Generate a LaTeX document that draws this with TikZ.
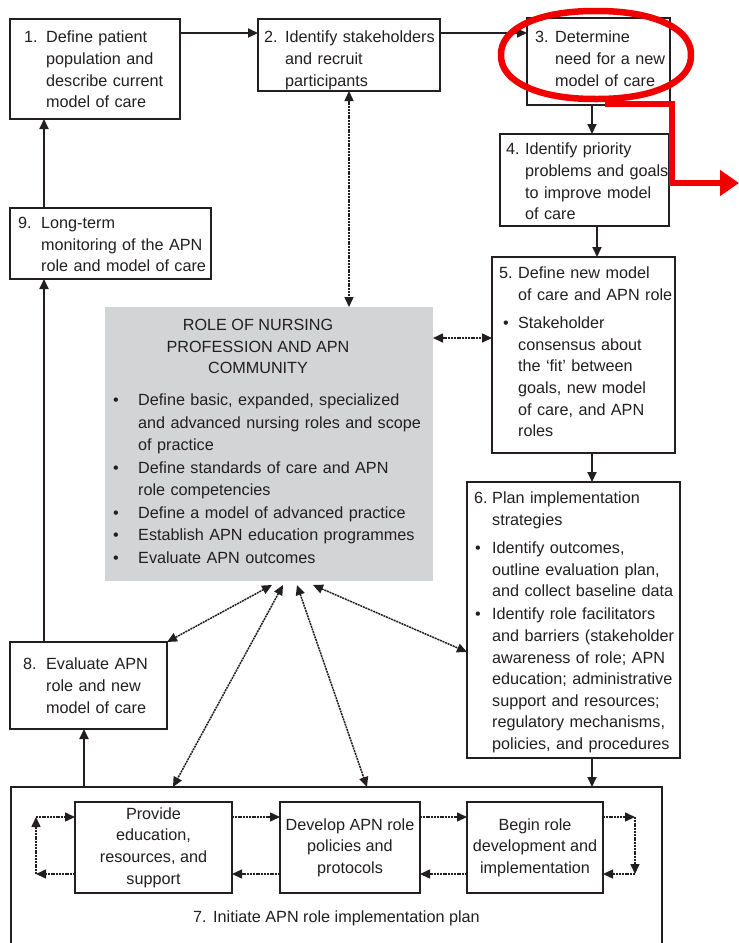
\documentclass[tikz,border=0pt]{standalone}
\usepackage{fontspec}
\setmainfont{Liberation Sans}
\usetikzlibrary{arrows.meta,calc}
\setlength\parindent{0pt}

\definecolor{ink}{HTML}{231F20}
\definecolor{panel}{RGB}{211,212,214}
\definecolor{mark}{RGB}{240,0,0}

% hanging layout: first line carries a number or bullet, \nl starts an indented line
\newlength\hangw
\newcommand\numline[2]{\leftskip=0pt\setlength\hangw{#2}\makebox[#2][l]{#1}\ignorespaces}
\newcommand\bul[2][0pt]{\leftskip=0pt\setlength\hangw{#2}\makebox[#2][l]{\hspace{#1}\textbullet}\ignorespaces}
\newcommand\nl{\par\leftskip=\hangw\relax}

\tikzset{
  box/.style={draw=ink, line width=1.3pt, inner sep=0pt, outer sep=0pt, anchor=north west},
  txt/.style={inner sep=0pt, text=ink, font=\fontsize{16.2}{21.6}\selectfont},
  textblock/.style={txt, anchor=north west, align=left, text width=#1},
  flow/.style={draw=ink, line width=1.9pt, -{Triangle[length=10pt,width=9pt]}},
  link/.style={draw=ink, line width=1.5pt, dash pattern=on 2pt off 0.8pt,
    {Triangle[length=10pt,width=9pt]}-{Triangle[length=10pt,width=9pt]}},
  loopline/.style={draw=ink, line width=1.5pt, dash pattern=on 2pt off 0.8pt,
    -{Triangle[length=10pt,width=9pt]}},
  highlight/.style={draw=mark, line width=6.5pt},
}

\begin{document}
\begin{tikzpicture}[x=1pt,y=-1pt]
\useasboundingbox (0,0) rectangle (739,943);
\clip (0,0) rectangle (739,943);
\fill[white] (0,0) rectangle (739,943);

% ---- frame of step 7 (runs off the bottom edge)
\node[box, minimum width=651pt, minimum height=180pt] (b7) at (11,787) {};

% ---- boxes
\node[box, minimum width=170pt, minimum height=100pt] (b1) at (10,19) {};
\node[box, minimum width=182pt, minimum height=72pt]  (b2) at (258,19) {};
\node[box, minimum width=143pt, minimum height=87pt]  (b3) at (527,18) {};
\node[box, minimum width=169pt, minimum height=92pt]  (b4) at (500,134) {};
\node[box, minimum width=183pt, minimum height=196pt] (b5) at (492,257) {};
\node[box, minimum width=213pt, minimum height=276pt] (b6) at (467,482) {};
\node[box, minimum width=201pt, minimum height=71pt]  (b9) at (10,208) {};
\node[box, minimum width=157pt, minimum height=87pt]  (b8) at (10,642) {};
\node[box, draw=none, fill=panel, minimum width=328pt, minimum height=274pt] (gray) at (105,307) {};

% ---- box texts
\node[textblock=250pt] (t1) at (24,31)
  {\numline{1.}{22pt}Define patient\nl population and\nl describe current\nl model of care\par};
\node[textblock=250pt] (t2) at (264,31)
  {\numline{2.}{21pt}Identify stakeholders\nl and recruit\nl participants\par};
\node[textblock=250pt] (t3) at (535,31)
  {\numline{3.}{20pt}Determine\nl need for a new\nl model of care\par};
\node[textblock=250pt] (t4) at (506,143)
  {\numline{4.}{19pt}Identify priority\nl problems and goals\nl to improve model\nl of care\par};
\node[textblock=250pt] (t5) at (499,267)
  {\numline{5.}{19pt}Define new model\nl of care and APN role\par\vspace{6.5pt}%
   \bul[4pt]{19pt}Stakeholder\nl consensus about\nl the ‘fit’ between\nl goals, new model\nl of care, and APN\nl roles\par};
\node[textblock=260pt] (t6) at (474,492)
  {\numline{6.}{18pt}Plan implementation\nl strategies\par\vspace{6.5pt}%
   \bul[1pt]{18pt}Identify outcomes,\nl outline evaluation plan,\nl and collect baseline data\par\vspace{1.5pt}%
   \bul[1pt]{18pt}Identify role facilitators\nl and barriers (stakeholder\nl awareness of role; APN\nl education; administrative\nl support and resources;\nl regulatory mechanisms,\nl policies, and procedures\par};
\node[textblock=250pt] (t9) at (18,217)
  {\numline{9.}{23pt}Long-term\nl monitoring of the APN\nl role and model of care\par};
\node[textblock=250pt] (t8) at (23,658)
  {\numline{8.}{23pt}Evaluate APN\nl role and new\nl model of care\par};

\node[txt, align=center, anchor=north] (gt) at (258,319)
  {ROLE OF NURSING\\PROFESSION AND APN\\COMMUNITY};
\node[textblock=330pt, font=\fontsize{16.2}{22.5}\selectfont] (gl) at (113,394)
  {\bul{25pt}Define basic, expanded, specialized\nl and advanced nursing roles and scope\nl of practice
   \par\bul{25pt}Define standards of care and APN\nl role competencies
   \par\bul{25pt}Define a model of advanced practice
   \par\bul{25pt}Establish APN education programmes
   \par\bul{25pt}Evaluate APN outcomes\par};

% ---- inner boxes of step 7
\node[box, txt, align=center, minimum width=157pt, minimum height=91pt] (pe) at (75,802)
  {Provide\\education,\\resources, and\\support};
\node[box, txt, align=center, minimum width=140pt, minimum height=91pt] (dv) at (280,802)
  {Develop APN role\\policies and\\protocols};
\node[box, txt, align=center, minimum width=136pt, minimum height=91pt] (bg) at (467,802)
  {Begin role\\development and\\implementation};
\node[txt, anchor=west] (cap) at (193,918)
  {\makebox[20pt][l]{7.}Initiate APN role implementation plan};

% ---- main flow
\draw[flow] (b1.east |- 0,33) -- (b2.west |- 0,33);
\draw[flow] (b2.east |- 0,33) -- (b3.west |- 0,33);
\draw[flow] (b3.south -| 592,0) -- (b4.north -| 592,0);
\draw[flow] (b4.south -| 597,0) -- (b5.north -| 597,0);
\draw[flow] (b5.south -| 592,0) -- (b6.north -| 592,0);
\draw[flow] (b6.south -| 592,0) -- (b7.north -| 592,0);
\draw[flow] (b7.north -| 84,0) -- (b8.south -| 84,0);
\draw[flow] (b8.north -| 44,0) -- (b9.south -| 44,0);
\draw[flow] (b9.north -| 44,0) -- (b1.south -| 44,0);

% ---- links with the nursing profession panel
\draw[link] (b2.south -| 349,0) -- (gray.north -| 349,0);
\draw[link] (gray.east |- 0,338) -- (b5.west |- 0,338);
\draw[link] ($(gray.south -| 272,0)+(0,4)$) -- (b8.north east);
\draw[link] ($(gray.south -| 283,0)+(0,4)$) -- (b7.north -| 173,0);
\draw[link] ($(gray.south -| 297,0)+(0,4)$) -- (b7.north -| 367,0);
\draw[link] ($(gray.south -| 313,0)+(0,4)$) -- (b6.west |- 0,652);

% ---- cycle inside step 7
\coordinate (lt) at (36,817);
\coordinate (lb) at (36,874);
\coordinate (rt) at (635,817);
\coordinate (rb) at (635,874);
\draw[loopline] (pe.east |- 0,817) -- (dv.west |- 0,817);
\draw[loopline] (dv.west |- 0,874) -- (pe.east |- 0,874);
\draw[loopline] (dv.east |- 0,817) -- (bg.west |- 0,817);
\draw[loopline] (bg.west |- 0,874) -- (dv.east |- 0,874);
\draw[loopline] (pe.west |- 0,874) -- (lb);
\draw[loopline] (lb) -- (lt);
\draw[loopline] (lt) -- (pe.west |- 0,817);
\draw[loopline] (bg.east |- 0,817) -- (rt);
\draw[loopline] (rt) -- (rb);
\draw[loopline] (rb) -- (bg.east |- 0,874);

% ---- red emphasis on step 3: slightly full oval and pointer
\draw[highlight, line join=round] plot[domain=2.5:362.5, samples=72, smooth cycle]
  ({596 + 95*sign(cos(\x))*abs(cos(\x))^0.91}, {55 + 44*sign(sin(\x))*abs(sin(\x))^0.91});
\coordinate (foot) at (605,104);
\coordinate (bend) at (672,183);
\coordinate (tipend) at (739,183);
\draw[highlight, -{Triangle[length=19pt,width=25pt]}] (foot) -| (bend) -- (tipend);
\end{tikzpicture}
\end{document}
